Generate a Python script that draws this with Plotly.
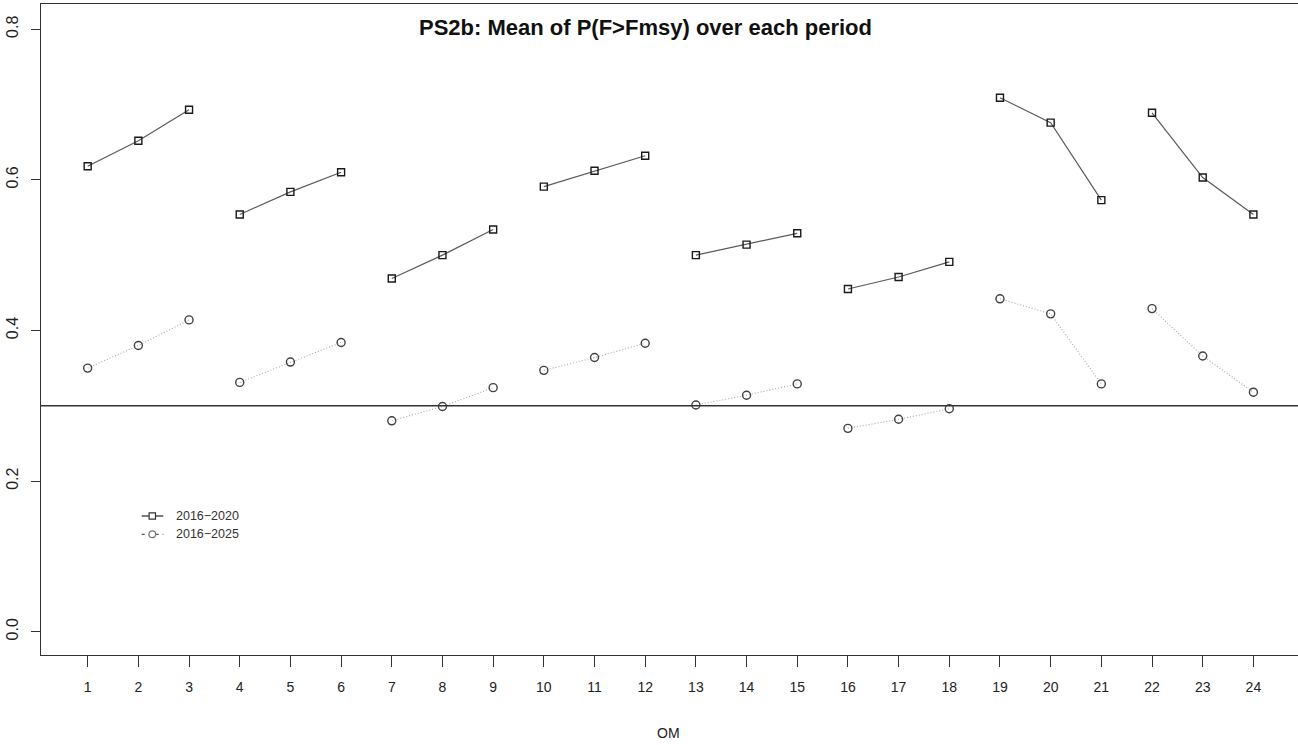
import plotly.graph_objects as go

om = list(range(1, 25))
p_2016_2020 = [0.618, 0.652, 0.693, 0.554, 0.584, 0.610,
               0.469, 0.500, 0.534, 0.591, 0.612, 0.632,
               0.500, 0.514, 0.529, 0.455, 0.471, 0.491,
               0.709, 0.676, 0.573, 0.689, 0.603, 0.554]
p_2016_2025 = [0.350, 0.380, 0.414, 0.331, 0.358, 0.384,
               0.280, 0.299, 0.324, 0.347, 0.364, 0.383,
               0.301, 0.314, 0.329, 0.270, 0.282, 0.296,
               0.442, 0.422, 0.329, 0.429, 0.366, 0.318]
series_names = ["2016\u22122020", "2016\u22122025"]
ref_level = 0.3
group_size = 3
y_ticks = [0.0, 0.2, 0.4, 0.6, 0.8]

title_text = "PS2b: Mean of P(F>Fmsy) over each period"
x_title = "OM"

FONT = "Liberation Sans, Arial, sans-serif"
W, H = 1298, 745
ML, MR, MT, MB = 41, 0, 4, 90
PW, PH = W - ML - MR, H - MT - MB


def px(x):
    return (x - ML) / PW


def py(y):
    return (H - MB - y) / PH


def gapped(xs, ys, n):
    gx, gy = [], []
    for i, (a, b) in enumerate(zip(xs, ys)):
        gx.append(a)
        gy.append(b)
        if (i + 1) % n == 0:
            gx.append(None)
            gy.append(None)
    return gx, gy


fig = go.Figure()

x1, y1 = gapped(om, p_2016_2020, group_size)
x2, y2 = gapped(om, p_2016_2025, group_size)

fig.add_trace(go.Scatter(
    x=x1, y=y1, mode="lines+markers", name=series_names[0],
    line=dict(color="#5a5a5a", width=1.2),
    marker=dict(symbol="square-open", size=7, color="#1a1a1a",
                line=dict(width=1.4, color="#1a1a1a")),
    connectgaps=False, showlegend=False))
fig.add_trace(go.Scatter(
    x=x2, y=y2, mode="lines+markers", name=series_names[1],
    line=dict(color="#a8a8a8", width=1.1, dash="1px,2px"),
    marker=dict(symbol="circle-open", size=8, color="#404040",
                line=dict(width=1.4, color="#404040")),
    connectgaps=False, showlegend=False))

shapes = [
    dict(type="line", xref="paper", yref="y", x0=0, x1=1,
         y0=ref_level, y1=ref_level, line=dict(color="#333333", width=1.5)),
]

# legend (manual, R style)
leg_rows = [516, 534.3]
lx0, lx1, lmx = 141.7, 163.3, 152.3
shapes.append(dict(type="line", xref="paper", yref="paper",
                   x0=px(lx0), x1=px(lx1), y0=py(leg_rows[0]), y1=py(leg_rows[0]),
                   line=dict(color="#333333", width=1.3)))
shapes.append(dict(type="line", xref="paper", yref="paper",
                   x0=px(lx0), x1=px(lx1), y0=py(leg_rows[1]), y1=py(leg_rows[1]),
                   line=dict(color="#555555", width=1.3, dash="3px,4px")))
s = 3.2
shapes.append(dict(type="rect", xref="paper", yref="paper",
                   x0=px(lmx - s), x1=px(lmx + s),
                   y0=py(leg_rows[0] + s), y1=py(leg_rows[0] - s),
                   line=dict(color="#333333", width=1.2), fillcolor="white"))
r = 3.4
shapes.append(dict(type="circle", xref="paper", yref="paper",
                   x0=px(lmx - r), x1=px(lmx + r),
                   y0=py(leg_rows[1] + r), y1=py(leg_rows[1] - r),
                   line=dict(color="#777777", width=1.2), fillcolor="white"))

annotations = [
    dict(text="<b>" + title_text + "</b>", xref="paper", yref="paper",
         x=px(645), y=py(27), xanchor="center", yanchor="middle",
         showarrow=False, font=dict(family=FONT, size=22, color="#111111")),
    dict(text=x_title, xref="paper", yref="paper",
         x=px(668), y=py(733), xanchor="center", yanchor="middle",
         showarrow=False, font=dict(family=FONT, size=14, color="#222222")),
]
for row, name in zip(leg_rows, series_names):
    annotations.append(dict(text=name, xref="paper", yref="paper",
                            x=px(174), y=py(row), xanchor="left", yanchor="middle",
                            showarrow=False,
                            font=dict(family=FONT, size=12.5, color="#333333")))

fig.update_layout(
    width=W, height=H,
    margin=dict(l=ML, r=MR, t=MT, b=MB, pad=0),
    paper_bgcolor="white", plot_bgcolor="white",
    shapes=shapes, annotations=annotations,
    showlegend=False,
    xaxis=dict(range=[0.079, 24.88], tickmode="array", tickvals=om,
               ticktext=[str(v) for v in om],
               showgrid=False, zeroline=False,
               showline=True, mirror=True, linecolor="#333333", linewidth=1.3,
               ticks="outside", ticklen=11, tickwidth=1, tickcolor="#333333",
               ticklabelstandoff=8,
               tickfont=dict(family=FONT, size=14, color="#222222")),
    yaxis=dict(range=[-0.031, 0.8335], tickmode="array", tickvals=y_ticks,
               tickformat=".1f",
               showgrid=False, zeroline=False,
               showline=True, mirror=False, linecolor="#333333", linewidth=1.3,
               ticks="outside", ticklen=9, tickwidth=1, tickcolor="#333333",
               tickangle=-90, ticklabelstandoff=6,
               tickfont=dict(family=FONT, size=16, color="#222222")),
)

fig.write_html("out.html")
